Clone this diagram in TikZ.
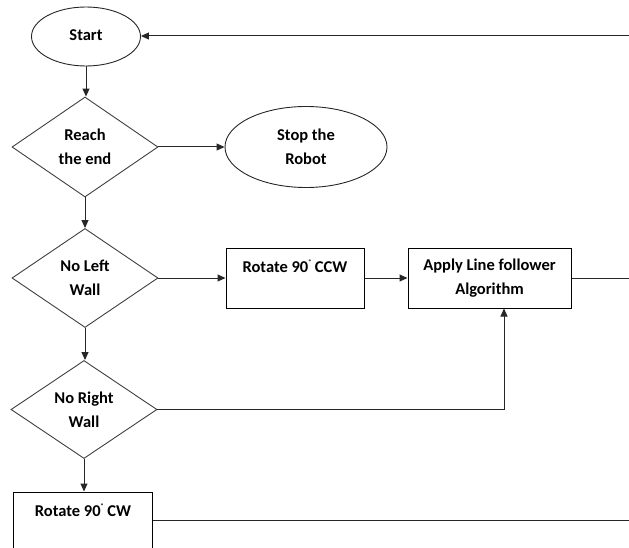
\documentclass[tikz,border=0pt]{standalone}
\usepackage{fontspec}
\setmainfont{Carlito}
\usetikzlibrary{shapes.geometric,arrows.meta}
\newcommand{\degmark}{\raisebox{0.8ex}{\fontsize{9}{9}\selectfont ˚}}
\begin{document}
\begin{tikzpicture}[x=1pt,y=-1pt,
  every node/.style={font=\fontsize{16.5}{24}\selectfont\bfseries, align=center, inner sep=0pt},
  decision/.style={diamond, draw=black!75, line width=0.9pt, minimum width=146pt, minimum height=100pt},
  terminal/.style={ellipse, draw=black!85, line width=0.9pt},
  process/.style={rectangle, draw=black, line width=1pt},
  flow/.style={draw=black!85, line width=1pt},
  arr/.style={flow, -{Triangle[length=8pt,width=7pt]}}]
\useasboundingbox (0,0) rectangle (629,548);
\clip (0,0) rectangle (629,548);

% main column
\node[terminal, minimum width=109pt, minimum height=59pt] (start) at (86,36.5) {\raisebox{3pt}{Start}};
\node[decision] (reach) at (85,147) {Reach\\the end};
\node[terminal, minimum width=162pt, minimum height=81pt] (stop) at (306,147) {Stop the\\Robot};
\node[decision, minimum height=99pt] (noleft) at (85,278) {No Left\\Wall};
\node[decision, minimum height=98pt] (noright) at (84,409.5) {No Right\\Wall};

% action boxes
\node[process, minimum width=138pt, minimum height=60pt] (ccw) at (295,278) {Rotate 90\degmark\ CCW\\\mbox{}};
\node[process, minimum width=163pt, minimum height=60pt] (apply) at (489.5,278) {Apply Line follower\\Algorithm};
\node[process, minimum width=139pt, minimum height=60pt] (cw) at (83,522) {Rotate 90\degmark\ CW\\\mbox{}};

% loose ends at the right border
\coordinate (backtop) at (629,36);
\coordinate (outapply) at (629,278);
\coordinate (outcw) at (629,520);
\coordinate (feed) at (504,409.5);

% connectors
\draw[arr] (start.south) -- (start.south |- reach.north);
\draw[arr] (reach.east) -- (stop.west);
\draw[arr] (reach.south) -- (noleft.north);
\draw[arr] (noleft.east) -- (ccw.west);
\draw[arr] (ccw.east) -- (apply.west);
\draw[arr] (noleft.south) -- (noleft.south |- noright.north);
\draw[arr] (noright.south) -- (noright.south |- cw.north);
\draw[arr] (noright.east) -- (feed) -- (feed |- apply.south);
\draw[flow] (apply.east) -- (outapply);
\draw[arr] (backtop) -- (start.east |- backtop);
\draw[flow] (cw.east |- outcw) -- (outcw);
\end{tikzpicture}
\end{document}
